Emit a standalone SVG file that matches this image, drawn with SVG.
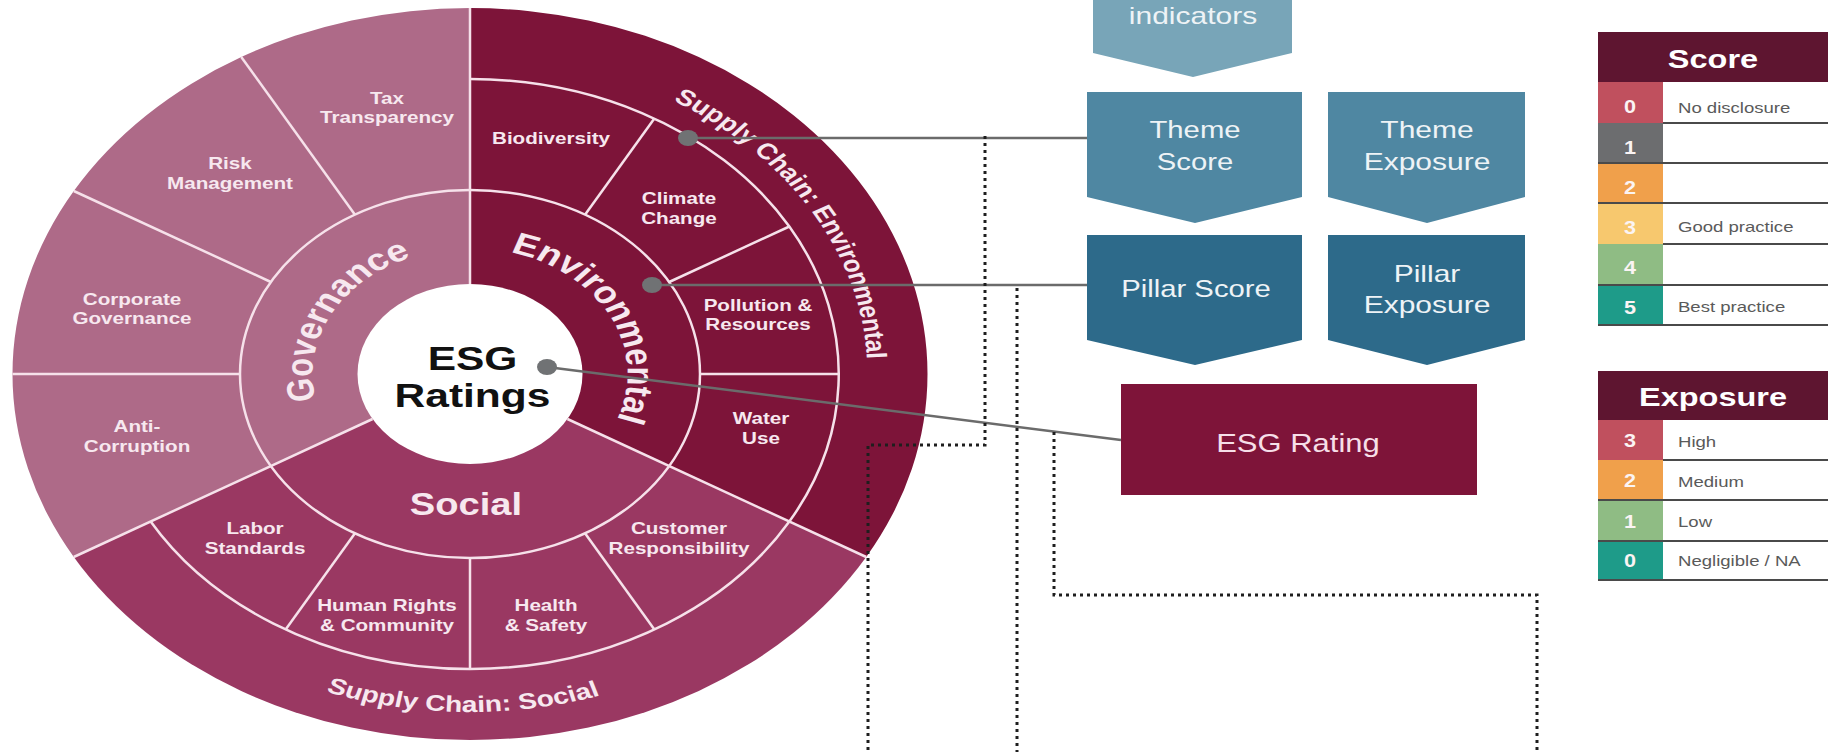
<svg xmlns="http://www.w3.org/2000/svg" width="1845" height="752" viewBox="0 0 1845 752">
  <defs>
    <style>
      .sep { fill: none; stroke: #F6E1EA; stroke-width: 2.5; vector-effect: non-scaling-stroke; }
      .wl { font-family: "Liberation Sans", Arial, sans-serif; font-weight: bold; font-size: 16.5px; fill: #F7E8EF; text-anchor: middle; }
      .pl { font-family: "Liberation Sans", Arial, sans-serif; font-weight: bold; font-size: 30.5px; fill: #F7E8EF; text-anchor: middle; }
      .sc { font-family: "Liberation Sans", Arial, sans-serif; font-weight: bold; font-size: 22.5px; fill: #F7E8EF; text-anchor: middle; }
      .core { font-family: "Liberation Sans", Arial, sans-serif; font-weight: bold; font-size: 34px; fill: #111111; text-anchor: middle; }
      .nt { font-family: "Liberation Sans", Arial, sans-serif; font-size: 24px; fill: #EEF3F6; text-anchor: middle; }
      .rt { font-family: "Liberation Sans", Arial, sans-serif; font-size: 25px; fill: #F6DFE8; text-anchor: middle; }
      .lh { font-family: "Liberation Sans", Arial, sans-serif; font-weight: bold; font-size: 25px; fill: #FFFFFF; text-anchor: middle; }
      .ln { font-family: "Liberation Sans", Arial, sans-serif; font-weight: bold; font-size: 18px; fill: #FBF4F4; text-anchor: middle; }
      .ll { font-family: "Liberation Sans", Arial, sans-serif; font-size: 14.5px; fill: #5A5A5A; }
      .rule { stroke: #4A4A4A; stroke-width: 2; }
      .conn { fill: none; stroke: #6B6B6B; stroke-width: 2.5; }
      .dotted { fill: none; stroke: #1E1E1E; stroke-width: 3; stroke-dasharray: 3 4; }
      .cdot { fill: #707274; }
    </style>
    <!-- text arcs, in the wheel's local (unstretched) frame -->
    <path id="arcGov" d="M-106.85,66.77 A126,126 0 0 1 -4.40,-125.92"/>
    <path id="arcEnv" d="M6.59,-125.83 A126,126 0 0 1 105.67,68.62"/>
    <path id="arcSupEnv" d="M-5.55,-317.95 A318,318 0 0 1 278.13,154.17"/>
    <path id="arcSupSoc" d="M-295.6,163.87 A338,338 0 0 0 289.72,174.08"/>
  </defs>

  <rect width="1845" height="752" fill="#FFFFFF"/>

  <!-- ESG wheel: drawn round, stretched 1.25x horizontally -->
  <g id="wheel" transform="translate(470 374) scale(1.25 1)">
    <g id="pillar-environmental">
      <path d="M0,0 L0,-366 A366,366 0 0 1 316.97,183 Z" fill="#7D1439"/>
    </g>
    <g id="pillar-social">
      <path d="M0,0 L316.97,183 A366,366 0 0 1 -316.97,183 Z" fill="#9A3862"/>
    </g>
    <g id="pillar-governance">
      <path d="M0,0 L-316.97,183 A366,366 0 0 1 0,-366 Z" fill="#AE6A88"/>
    </g>

    <g id="separators">
      <circle class="sep" r="184"/>
      <path class="sep" d="M0,-295 A295,295 0 1 1 -255.48,147.5"/>
      <line class="sep" x1="0" y1="-90" x2="0" y2="-366"/>
      <line class="sep" x1="77.94" y1="45" x2="316.97" y2="183"/>
      <line class="sep" x1="-77.94" y1="45" x2="-316.97" y2="183"/>
      <line class="sep" x1="92" y1="-159.35" x2="147.5" y2="-255.48"/>
      <line class="sep" x1="159.35" y1="-92" x2="255.48" y2="-147.5"/>
      <line class="sep" x1="184" y1="0" x2="295" y2="0"/>
      <line class="sep" x1="92" y1="159.35" x2="147.5" y2="255.48"/>
      <line class="sep" x1="0" y1="184" x2="0" y2="295"/>
      <line class="sep" x1="-92" y1="159.35" x2="-147.5" y2="255.48"/>
      <line class="sep" x1="-184" y1="0" x2="-366" y2="0"/>
      <line class="sep" x1="-159.35" y1="-92" x2="-316.97" y2="-183"/>
      <line class="sep" x1="-92" y1="-159.35" x2="-183" y2="-316.97"/>
    </g>

    <g id="core">
      <circle r="90" fill="#FFFFFF"/>
      <text class="core" x="2" y="-4">ESG</text>
      <text class="core" x="2" y="33">Ratings</text>
    </g>

    <!-- pillar titles -->
    <g id="label-governance"><text class="pl"><textPath href="#arcGov" startOffset="50%">Governance</textPath></text></g>
    <g id="label-environmental"><text class="pl"><textPath href="#arcEnv" startOffset="50%">Environmental</textPath></text></g>
    <g id="label-social"><text class="pl" x="-3.2" y="141">Social</text></g>
    <g id="supply-chain-environmental"><text class="sc"><textPath href="#arcSupEnv" startOffset="50%">Supply Chain: Environmental</textPath></text></g>
    <g id="supply-chain-social"><text class="sc"><textPath href="#arcSupSoc" startOffset="50%">Supply Chain: Social</textPath></text></g>

    <!-- governance themes -->
    <g id="theme-tax-transparency"><text class="wl" x="-66.4" y="-270">Tax<tspan x="-66.4" dy="19">Transparency</tspan></text></g>
    <g id="theme-risk-management"><text class="wl" x="-192" y="-205">Risk<tspan x="-192" dy="20">Management</tspan></text></g>
    <g id="theme-corporate-governance"><text class="wl" x="-270.4" y="-69">Corporate<tspan x="-270.4" dy="19">Governance</tspan></text></g>
    <g id="theme-anti-corruption"><text class="wl" x="-266.4" y="58">Anti-<tspan x="-266.4" dy="20">Corruption</tspan></text></g>

    <!-- environmental themes -->
    <g id="theme-biodiversity"><text class="wl" x="64.8" y="-230">Biodiversity</text></g>
    <g id="theme-climate-change"><text class="wl" x="167.2" y="-170">Climate<tspan x="167.2" dy="20">Change</tspan></text></g>
    <g id="theme-pollution-resources"><text class="wl" x="230.4" y="-63">Pollution &amp;<tspan x="230.4" dy="19">Resources</tspan></text></g>
    <g id="theme-water-use"><text class="wl" x="232.8" y="50">Water<tspan x="232.8" dy="20">Use</tspan></text></g>

    <!-- social themes -->
    <g id="theme-labor-standards"><text class="wl" x="-172" y="160">Labor<tspan x="-172" dy="20">Standards</tspan></text></g>
    <g id="theme-human-rights"><text class="wl" x="-66.4" y="237">Human Rights<tspan x="-66.4" dy="20">&amp; Community</tspan></text></g>
    <g id="theme-health-safety"><text class="wl" x="60.8" y="237">Health<tspan x="60.8" dy="20">&amp; Safety</tspan></text></g>
    <g id="theme-customer-responsibility"><text class="wl" x="167.2" y="160">Customer<tspan x="167.2" dy="20">Responsibility</tspan></text></g>
  </g>

  <!-- flow of scores -->
  <g id="node-indicators">
    <path d="M1093,-10 H1292 V53 L1193,77 L1093,53 Z" fill="#78A5B8"/>
    <text class="nt" transform="translate(1193 24) scale(1.25 1)">indicators</text>
  </g>
  <g id="node-theme-score">
    <path d="M1087,92 H1302 V197 L1195,223 L1087,197 Z" fill="#4F87A2"/>
    <text class="nt" transform="translate(1195 138) scale(1.22 1)">Theme<tspan x="0" dy="32">Score</tspan></text>
  </g>
  <g id="node-theme-exposure">
    <path d="M1328,92 H1525 V197 L1427,223 L1328,197 Z" fill="#4F87A2"/>
    <text class="nt" transform="translate(1427 138) scale(1.25 1)">Theme<tspan x="0" dy="32">Exposure</tspan></text>
  </g>
  <g id="node-pillar-score">
    <path d="M1087,235 H1302 V340 L1195,365 L1087,340 Z" fill="#2D6A8A"/>
    <text class="nt" transform="translate(1196 297) scale(1.22 1)">Pillar Score</text>
  </g>
  <g id="node-pillar-exposure">
    <path d="M1328,235 H1525 V340 L1427,365 L1328,340 Z" fill="#2D6A8A"/>
    <text class="nt" transform="translate(1427 282) scale(1.25 1)">Pillar<tspan x="0" dy="31">Exposure</tspan></text>
  </g>
  <g id="node-esg-rating">
    <rect x="1121" y="384" width="356" height="111" fill="#7E1439"/>
    <text class="rt" transform="translate(1298 452) scale(1.24 1)">ESG Rating</text>
  </g>

  <!-- score legend -->
  <g id="legend-score">
    <rect x="1598" y="32" width="230" height="50" fill="#5E1530"/>
    <text class="lh" transform="translate(1713 68) scale(1.3 1)">Score</text>
    <rect x="1598" y="82" width="65" height="41" fill="#C0505E"/>
    <rect x="1598" y="123" width="65" height="40" fill="#6C6D6F"/>
    <rect x="1598" y="163" width="65" height="40" fill="#F0A04B"/>
    <rect x="1598" y="203" width="65" height="41" fill="#F7C86E"/>
    <rect x="1598" y="244" width="65" height="41" fill="#8FBC84"/>
    <rect x="1598" y="285" width="65" height="40" fill="#1E9B89"/>
    <line class="rule" x1="1663" y1="123" x2="1828" y2="123"/>
    <line class="rule" x1="1598" y1="163" x2="1828" y2="163"/>
    <line class="rule" x1="1598" y1="203" x2="1828" y2="203"/>
    <line class="rule" x1="1663" y1="244" x2="1828" y2="244"/>
    <line class="rule" x1="1598" y1="285" x2="1828" y2="285"/>
    <line class="rule" x1="1598" y1="325" x2="1828" y2="325"/>
    <text class="ln" transform="translate(1630 113) scale(1.2 1)">0</text>
    <text class="ln" transform="translate(1630 154) scale(1.2 1)">1</text>
    <text class="ln" transform="translate(1630 194) scale(1.2 1)">2</text>
    <text class="ln" transform="translate(1630 234) scale(1.2 1)">3</text>
    <text class="ln" transform="translate(1630 274) scale(1.2 1)">4</text>
    <text class="ln" transform="translate(1630 314) scale(1.2 1)">5</text>
    <text class="ll" transform="translate(1678 113) scale(1.28 1)">No disclosure</text>
    <text class="ll" transform="translate(1678 232) scale(1.28 1)">Good practice</text>
    <text class="ll" transform="translate(1678 312) scale(1.28 1)">Best practice</text>
  </g>

  <!-- exposure legend -->
  <g id="legend-exposure">
    <rect x="1598" y="371" width="230" height="49" fill="#5E1530"/>
    <text class="lh" transform="translate(1713 406) scale(1.3 1)">Exposure</text>
    <rect x="1598" y="420" width="65" height="40" fill="#C0505E"/>
    <rect x="1598" y="460" width="65" height="40" fill="#F0A04B"/>
    <rect x="1598" y="500" width="65" height="41" fill="#8FBC84"/>
    <rect x="1598" y="541" width="65" height="39" fill="#1E9B89"/>
    <line class="rule" x1="1663" y1="460" x2="1828" y2="460"/>
    <line class="rule" x1="1598" y1="500" x2="1828" y2="500"/>
    <line class="rule" x1="1598" y1="541" x2="1828" y2="541"/>
    <line class="rule" x1="1598" y1="580" x2="1828" y2="580"/>
    <text class="ln" transform="translate(1630 447) scale(1.2 1)">3</text>
    <text class="ln" transform="translate(1630 487) scale(1.2 1)">2</text>
    <text class="ln" transform="translate(1630 528) scale(1.2 1)">1</text>
    <text class="ln" transform="translate(1630 567) scale(1.2 1)">0</text>
    <text class="ll" transform="translate(1678 447) scale(1.28 1)">High</text>
    <text class="ll" transform="translate(1678 487) scale(1.28 1)">Medium</text>
    <text class="ll" transform="translate(1678 527) scale(1.28 1)">Low</text>
    <text class="ll" transform="translate(1678 566) scale(1.28 1)">Negligible / NA</text>
  </g>

  <g id="connectors">
    <line class="conn" x1="688" y1="138" x2="1087" y2="138"/>
    <line class="conn" x1="652" y1="285" x2="1087" y2="285"/>
    <line class="conn" x1="547" y1="367" x2="1121" y2="440"/>
    <path class="dotted" d="M985,136 V445 H868 V752"/>
    <path class="dotted" d="M1017,288 V752"/>
    <path class="dotted" d="M1054,432 V595 H1537 V752"/>
    <ellipse class="cdot" cx="688" cy="138" rx="10" ry="8"/>
    <ellipse class="cdot" cx="652" cy="285" rx="10" ry="8"/>
    <ellipse class="cdot" cx="547" cy="367" rx="10" ry="8"/>
  </g>
</svg>
